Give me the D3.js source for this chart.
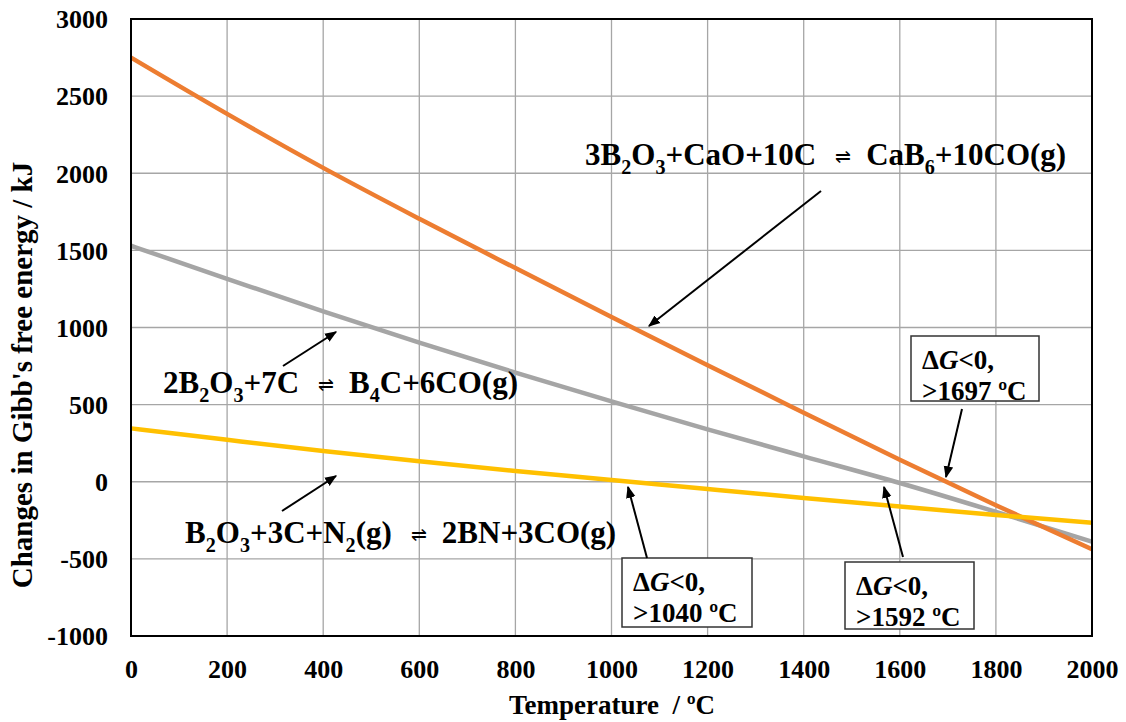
<!DOCTYPE html>
<html>
<head>
<meta charset="utf-8">
<script src="https://cdn.jsdelivr.net/npm/d3@7"></script>
<style>
  html, body { margin: 0; padding: 0; background: #fff; }
  svg { display: block; font-family: "Liberation Serif", "Times New Roman", serif; font-weight: bold; }
</style>
</head>
<body>
<svg id="chart" width="1126" height="722"></svg>
<script>
// ---- data ----
const temperatures = [0, 200, 400, 600, 800, 1000, 1200, 1400, 1600, 1800, 2000];
const cab6Values = [2750, 2385, 2035, 1705, 1385, 1068, 755, 448, 143, -152, -438];
const b4cValues  = [1530, 1316, 1104, 902, 708, 521, 340, 165, -8, -195, -388];
const bnValues   = [346, 272, 200, 133, 70, 12, -47, -105, -161, -215, -266];
const xTicks = [0, 200, 400, 600, 800, 1000, 1200, 1400, 1600, 1800, 2000];
const yTicks = [-1000, -500, 0, 500, 1000, 1500, 2000, 2500, 3000];
const xTitle = "Temperature  / ºC";
const yTitle = "Changes in Gibb's free energy / kJ";
const reactionLabels = [
  { text: "3B_2O_3+CaO+10C~CaB_6+10CO(g)", x: 585, y: 165 },
  { text: "2B_2O_3+7C~B_4C+6CO(g)", x: 163, y: 393 },
  { text: "B_2O_3+3C+N_2(g)~2BN+3CO(g)", x: 185, y: 543 }
];
const thresholds = [1040, 1592, 1697];

// ---- layout ----
const plot = { left: 131, top: 19, right: 1092, bottom: 636 };
const svg = d3.select("#chart");

const x = d3.scaleLinear().domain([0, 2000]).range([plot.left, plot.right]);
const y = d3.scaleLinear().domain([-1000, 3000]).range([plot.bottom, plot.top]);

// gridlines
const grid = svg.append("g");
grid.selectAll("line.v").data(xTicks).join("line")
  .attr("x1", d => x(d)).attr("x2", d => x(d))
  .attr("y1", plot.top).attr("y2", plot.bottom)
  .attr("stroke", "#a6a6a6").attr("stroke-width", 1.3);
grid.selectAll("line.h").data(yTicks).join("line")
  .attr("y1", d => y(d)).attr("y2", d => y(d))
  .attr("x1", plot.left).attr("x2", plot.right)
  .attr("stroke", "#a6a6a6").attr("stroke-width", 1.3);

// axes (labels only)
const xAxis = d3.axisBottom(x).tickValues(xTicks).tickSize(0).tickPadding(0).tickFormat(d => String(d));
const gx = svg.append("g").attr("transform", `translate(0,${plot.bottom})`).call(xAxis);
gx.select(".domain").remove();
gx.selectAll("text").attr("font-size", 26).attr("font-weight", "bold")
  .attr("font-family", "Liberation Serif").attr("fill", "#000").attr("dy", 0).attr("y", 42);

const yAxis = d3.axisLeft(y).tickValues(yTicks).tickSize(0).tickPadding(0).tickFormat(d => String(d));
const gy = svg.append("g").attr("transform", `translate(${plot.left},0)`).call(yAxis);
gy.select(".domain").remove();
gy.selectAll("text").attr("font-size", 26).attr("font-weight", "bold")
  .attr("font-family", "Liberation Serif").attr("fill", "#000").attr("x", -23).attr("dy", "0.34em");

// lines
const line = d3.line().x(d => x(d[0])).y(d => y(d[1])).curve(d3.curveMonotoneX);
const series = [
  { vals: b4cValues, color: "#a5a5a5" },
  { vals: cab6Values, color: "#ed7d31" },
  { vals: bnValues, color: "#ffc000" }
];
series.forEach(s => {
  svg.append("path").datum(temperatures.map((t, i) => [t, s.vals[i]]))
    .attr("d", line).attr("fill", "none").attr("stroke", s.color)
    .attr("stroke-width", 4.5).attr("stroke-linejoin", "round");
});

// frame
svg.append("rect").attr("x", plot.left).attr("y", plot.top)
  .attr("width", plot.right - plot.left).attr("height", plot.bottom - plot.top)
  .attr("fill", "none").attr("stroke", "#000").attr("stroke-width", 2);

// arrow marker
const defs = svg.append("defs");
defs.append("marker").attr("id", "ah").attr("viewBox", "0 0 10 10")
  .attr("refX", 9).attr("refY", 5).attr("markerWidth", 6).attr("markerHeight", 6)
  .attr("orient", "auto").attr("markerUnits", "strokeWidth")
  .append("path").attr("d", "M0,1 L10,5 L0,9 Z").attr("fill", "#000");

function arrow(x1, y1, x2, y2) {
  svg.append("line").attr("x1", x1).attr("y1", y1).attr("x2", x2).attr("y2", y2)
    .attr("stroke", "#000").attr("stroke-width", 2).attr("marker-end", "url(#ah)");
}

// formula renderer: "_d" = subscript digit, "~" = equilibrium sign
function formula(str, x0, y0, size) {
  const segs = [];
  let buf = "";
  const flush = () => { if (buf) { segs.push({ text: buf, kind: "n" }); buf = ""; } };
  for (let i = 0; i < str.length; i++) {
    const c = str[i];
    if (c === "_") { flush(); segs.push({ text: str[i + 1], kind: "sub" }); i++; }
    else if (c === "~") { flush(); segs.push({ text: "\u21CC", kind: "eq" }); }
    else buf += c;
  }
  flush();
  const t = svg.append("text").attr("x", x0).attr("y", y0).attr("font-size", size)
    .attr("font-weight", "bold").attr("fill", "#000");
  let cur = 0, prevKind = "n";
  segs.forEach(s => {
    const off = s.kind === "sub" ? size * 0.28 : (s.kind === "eq" ? -2 : 0);
    const ts = t.append("tspan").attr("dy", off - cur).text(s.text);
    if (s.kind === "sub") ts.attr("font-size", size * 0.65);
    if (s.kind === "eq") ts.attr("font-size", size * 0.6).attr("font-weight", "normal").attr("dx", 19);
    if (prevKind === "eq") ts.attr("dx", 15);
    cur = off; prevKind = s.kind;
  });
  return t;
}

reactionLabels.forEach(l => formula(l.text, l.x, l.y, 31));

// reaction arrows
arrow(821, 191, 649, 326);
arrow(283, 366, 336, 332);
arrow(282, 511, 336, 476);

// threshold boxes
const boxes = [
  { t: thresholds[0], bx: 622, by: 558, bw: 130, bh: 69, ax1: 647, ay1: 558, ax2: 628, ay2: 487 },
  { t: thresholds[1], bx: 845, by: 562, bw: 129, bh: 67, ax1: 903, ay1: 557, ax2: 884, ay2: 487 },
  { t: thresholds[2], bx: 911, by: 336, bw: 128, bh: 65, ax1: 962, ay1: 409, ax2: 946, ay2: 477 }
];
boxes.forEach(b => {
  svg.append("rect").attr("x", b.bx).attr("y", b.by).attr("width", b.bw).attr("height", b.bh)
    .attr("fill", "#fff").attr("stroke", "#333").attr("stroke-width", 1.5);
  const t1 = svg.append("text").attr("x", b.bx + 11).attr("y", b.by + 33)
    .attr("font-size", 27).attr("font-weight", "bold").attr("fill", "#000");
  t1.append("tspan").text("\u0394");
  t1.append("tspan").attr("font-style", "italic").text("G");
  t1.append("tspan").text("<0,");
  svg.append("text").attr("x", b.bx + 11).attr("y", b.by + 64)
    .attr("font-size", 27).attr("font-weight", "bold").attr("fill", "#000")
    .text(">" + b.t + " ºC");
  arrow(b.ax1, b.ay1, b.ax2, b.ay2);
});

// axis titles
svg.append("text").attr("x", 612).attr("y", 714).attr("text-anchor", "middle")
  .attr("font-size", 27).attr("font-weight", "bold").attr("xml:space", "preserve").text(xTitle);
svg.append("text").attr("transform", `translate(32,375) rotate(-90)`).attr("text-anchor", "middle")
  .attr("font-size", 29).attr("font-weight", "bold").text(yTitle);
</script>
</body>
</html>
